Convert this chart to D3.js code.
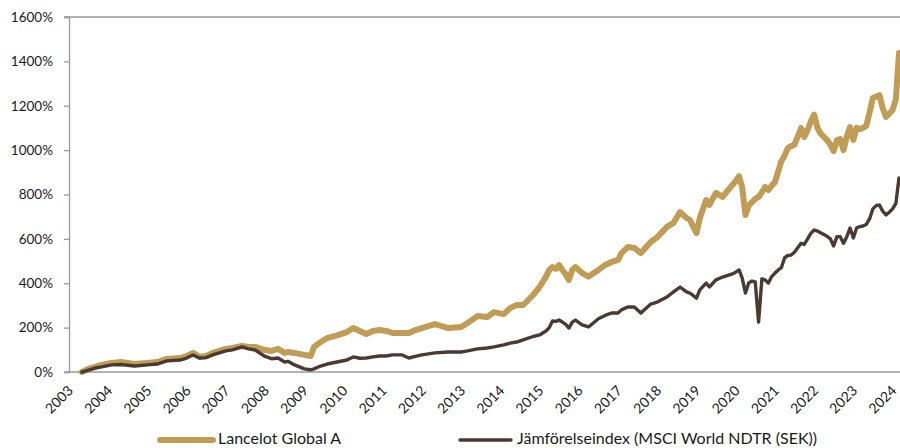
<!DOCTYPE html>
<html><head><meta charset="utf-8">
<script src="https://cdn.jsdelivr.net/npm/d3@7/dist/d3.min.js"></script>
<style>
html,body{margin:0;padding:0;background:#fff;}
svg{display:block;font-family:Lato,"Open Sans",sans-serif;}
</style></head>
<body>
<svg id="chart" width="900" height="448"></svg>
<script>
// ---- Data (cumulative return, %) ----
const dates = [
"2003-05","2003-07","2003-09","2003-11","2004-02","2004-05","2004-09","2005-01","2005-04","2005-07","2005-11",
"2006-01","2006-03","2006-05","2006-07","2006-09","2007-01","2007-03","2007-06","2007-08","2007-10",
"2008-01","2008-03","2008-05","2008-07","2008-08","2008-10","2009-01","2009-03","2009-04","2009-06","2009-08","2009-11",
"2010-02","2010-04","2010-06","2010-08","2010-10","2010-12","2011-02","2011-04","2011-07","2011-09","2011-11",
"2012-01","2012-05","2012-09","2013-01","2013-03","2013-06","2013-09","2013-11",
"2014-02","2014-04","2014-06","2014-08","2014-11","2015-01","2015-03","2015-04","2015-05","2015-06","2015-07","2015-08","2015-09","2015-10","2015-11","2015-12",
"2016-02","2016-04","2016-07","2016-09","2016-11","2017-01","2017-02","2017-04","2017-06","2017-08","2017-11",
"2018-01","2018-04","2018-06","2018-08","2018-10","2018-11","2019-01","2019-02","2019-04","2019-05","2019-07","2019-09","2019-12",
"2020-01","2020-02","2020-03","2020-04","2020-05","2020-06","2020-07","2020-08","2020-09","2020-10","2020-11","2020-12",
"2021-01","2021-02","2021-03","2021-04","2021-05","2021-06","2021-07","2021-08","2021-09","2021-10","2021-11","2021-12",
"2022-01","2022-02","2022-03","2022-04","2022-05","2022-06","2022-07","2022-08","2022-09","2022-10","2022-11","2022-12",
"2023-01","2023-02","2023-03","2023-04","2023-05","2023-06","2023-07","2023-08","2023-09","2023-10","2023-11","2023-12",
"2024-01","2024-02","2024-03"
];
const lancelot = [
0,14,23,32,41,45,36,41,45,59,63,
72,86,68,72,86,104,108,117,113,113,
99,95,104,86,90,86,77,72,113,135,153,165,
180,198,185,171,185,189,185,176,176,176,189,
198,216,198,203,221,252,248,270,
261,288,302,302,347,383,430,460,473,465,482,460,440,415,460,473,
446,430,460,482,496,505,536,563,559,536,586,
608,654,672,721,694,685,626,694,775,753,807,789,843,
860,883,834,708,750,766,780,789,810,834,820,840,
856,905,950,975,1010,1018,1025,1060,1100,1060,1090,1130,
1160,1100,1075,1060,1045,1025,995,1045,1050,1000,1060,1104,
1046,1100,1095,1100,1110,1170,1235,1240,1248,1190,1150,1165,
1180,1230,1438
];
const benchmark = [
0,9,18,23,32,34,27,32,36,50,54,
63,77,63,65,77,95,100,113,104,99,
70,60,63,45,48,32,14,10,14,27,36,45,
54,68,62,63,68,72,72,77,77,63,70,
77,86,90,90,95,104,108,113,
122,130,135,145,160,167,185,200,230,228,234,225,215,198,225,234,
212,203,240,255,266,266,280,293,293,266,306,
315,338,361,383,361,356,333,370,401,383,415,428,442,
450,460,424,356,401,410,406,225,420,415,401,430,
446,460,470,515,525,527,540,560,580,575,600,625,
640,635,628,620,612,600,568,610,610,580,610,649,
604,650,655,658,665,690,735,750,753,725,708,720,
735,760,874
];
const yTicks = [0,200,400,600,800,1000,1200,1400,1600];
const yearTicks = d3.range(2003, 2025);
const seriesNames = ["Lancelot Global A", "Jämförelseindex (MSCI World NDTR (SEK))"];
const seriesColors = ["#C09C55", "#4A3A32"];

// ---- Layout ----
const svg = d3.select("#chart");
const L = 69, R = 899, T = 17, B = 372;
const parse = d3.timeParse("%Y-%m");
const dts = dates.map(parse);
const x = d3.scaleTime().domain([new Date(2003,0,1), dts[dts.length-1]]).range([L, R]);
const y = d3.scaleLinear().domain([0,1600]).range([B, T]);

// frame: top line, left axis, bottom axis
const axisColor = "#9a9a9a";
svg.append("line").attr("x1",L-5).attr("x2",900).attr("y1",T).attr("y2",T)
   .attr("stroke",axisColor).attr("stroke-width",1.3);

const yAxis = d3.axisLeft(y).tickValues(yTicks).tickSize(5).tickFormat(d=>d+"%");
const gy = svg.append("g").attr("transform",`translate(${L},0)`).call(yAxis);
gy.select(".domain").attr("stroke",axisColor).attr("stroke-width",1.3);
gy.selectAll(".tick line").attr("stroke",axisColor).attr("stroke-width",1.3);
gy.selectAll(".tick text").attr("x",-16).attr("fill","#1a1a1a")
  .style("font-size","13.5px").style("font-family","Lato, sans-serif");

const xAxis = d3.axisBottom(x).tickValues(yearTicks.map(yr=>new Date(yr,0,1)))
  .tickSize(0).tickFormat(d3.timeFormat("%Y"));
const gx = svg.append("g").attr("transform",`translate(0,${B})`).call(xAxis);
gx.select(".domain").attr("stroke",axisColor).attr("stroke-width",1.3)
  .attr("d",`M${L-5},0H900`);
gx.selectAll(".tick text")
  .attr("text-anchor","end").attr("fill","#1a1a1a")
  .attr("transform","translate(1,16) rotate(-45)")
  .attr("x",0).attr("y",0).attr("dy","0.35em")
  .style("font-size","14px").style("font-family","Lato, sans-serif");

// lines
svg.append("clipPath").attr("id","clip").append("rect")
  .attr("x",L).attr("y",0).attr("width",900-L).attr("height",B+4);
const line = vals => d3.line().x((d,i)=>x(dts[i])).y(d=>y(d)).curve(d3.curveLinear)(vals);
const g = svg.append("g").attr("clip-path","url(#clip)");
g.append("path").attr("d",line(lancelot)).attr("fill","none")
  .attr("stroke",seriesColors[0]).attr("stroke-width",6).attr("stroke-linejoin","round").attr("stroke-linecap","round");
g.append("path").attr("d",line(benchmark)).attr("fill","none")
  .attr("stroke",seriesColors[1]).attr("stroke-width",3.4).attr("stroke-linejoin","round").attr("stroke-linecap","round");

// legend
const legend = [
  {x1:160,x2:213,tx:218,w:6},
  {x1:460,x2:511,tx:517,w:3.4}
];
legend.forEach((l,i)=>{
  svg.append("line").attr("x1",l.x1).attr("x2",l.x2).attr("y1",440).attr("y2",440)
    .attr("stroke",seriesColors[i]).attr("stroke-width",l.w).attr("stroke-linecap","round");
  svg.append("text").attr("x",l.tx).attr("y",439).attr("dy","0.34em")
    .attr("fill","#1a1a1a").style("font-size","16px").style("font-family","Lato, sans-serif")
    .text(seriesNames[i]);
});
</script>
</body></html>
